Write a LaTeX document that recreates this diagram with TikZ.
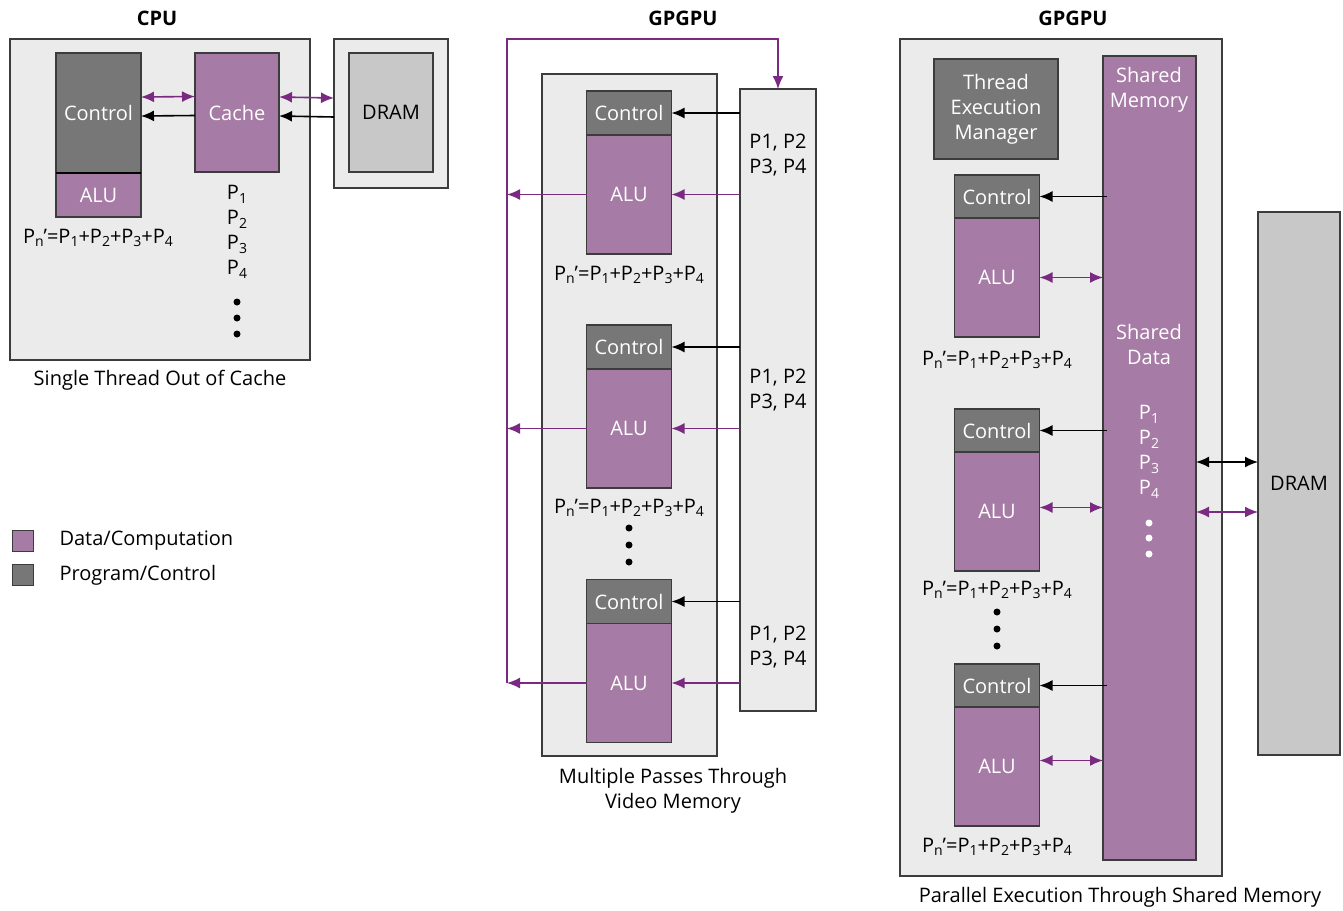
\documentclass[tikz,border=0pt]{standalone}
\usepackage{fontspec}
\setmainfont{Open Sans}
\usepackage{tikz}
\usetikzlibrary{positioning, arrows.meta}
\definecolor{datapurple}{RGB}{166,123,165}
\definecolor{arrowpurple}{RGB}{122,42,128}
\definecolor{ctrlgray}{RGB}{119,119,119}
\definecolor{panelgray}{RGB}{235,235,235}
\definecolor{dramgray}{RGB}{200,200,200}
\definecolor{edge}{RGB}{60,60,60}
\newcommand{\psub}[1]{\raisebox{-0.35ex}{\fontsize{14}{14}\selectfont #1}}
\tikzset{
	every node/.style={
		align=center,
		font=\fontsize{20}{25}\selectfont,
	},
	panel/.style={draw=edge, fill=panelgray, line width=1.5pt, inner sep=0pt, outer sep=0pt},
	ctrl/.style={draw=edge, fill=ctrlgray, text=white, line width=1.5pt, inner sep=0pt, outer sep=0pt},
	data/.style={draw=edge, fill=datapurple, text=white, line width=1.5pt, inner sep=0pt, outer sep=0pt},
	dram/.style={draw=edge, fill=dramgray, line width=1.5pt, inner sep=0pt, outer sep=0pt},
	title/.style={font=\fontsize{20}{25}\selectfont\bfseries},
	blk/.style={draw=black, line width=1.6pt, -{Latex[length=13pt,width=11pt]}},
	blkboth/.style={draw=black, line width=1.6pt, {Latex[length=13pt,width=11pt]}-{Latex[length=13pt,width=11pt]}},
	purline/.style={draw=arrowpurple, line width=1.6pt},
	pur/.style={draw=arrowpurple, line width=1.6pt, -{Latex[length=13pt,width=11pt]}},
	purboth/.style={draw=arrowpurple, line width=1.6pt, {Latex[length=13pt,width=11pt]}-{Latex[length=13pt,width=11pt]}},
}
\begin{document}
\begin{tikzpicture}[x=1pt, y=-1pt]
        \useasboundingbox[fill=white] (0,0) rectangle (1343,910);
        \node[title] (cputitle) at (157,18) {CPU};
        \node[panel, minimum width=300pt, minimum height=321pt] (cpu) at (160,199.5) {};
        \node[panel, minimum width=114pt, minimum height=149pt] (cdramout) at (391,113.5) {};
        \node[dram, minimum width=84pt, minimum height=119pt] (cdram) at (391,112.5) {DRAM};
        \node[ctrl, minimum width=85pt, minimum height=120pt] (cctl) at (98.5,113) {Control};
        \node[data, minimum width=85pt, minimum height=44pt, below=0pt of cctl] (calu) {ALU};
        \node[data, minimum width=84pt, minimum height=119pt] (cache) at (237,112.5) {Cache};
        \draw[black, line width=2pt] (calu.north west) -- (calu.north east);
        \draw[purboth] ([yshift=16pt]cctl.east) -- ([yshift=16pt]cache.west);
        \draw[blk] ([yshift=-3pt]cache.west) -- ([yshift=-3pt]cctl.east);
        \draw[purboth] ([yshift=15.5pt]cache.east) -- ([yshift=15.5pt]cdramout.west);
        \draw[blk] ([yshift=-3.5pt]cdramout.west) -- ([yshift=-3.5pt]cache.east);
        \node[] (csum) at (98,238) {P\psub{n}’=P\psub{1}+P\psub{2}+P\psub{3}+P\psub{4}};
        \node[] (clist) at (237,232) {P\psub{1}\\P\psub{2}\\P\psub{3}\\P\psub{4}};
        \fill (237,302) circle (3.5) (237,318) circle (3.5) (237,334) circle (3.5);
        \node[] (ccap) at (160,380) {Single Thread Out of Cache};
        \node[data, minimum width=21pt, minimum height=21pt] (legdata) at (23,541) {};
        \node[ctrl, minimum width=21pt, minimum height=21pt] (legctrl) at (23,575) {};
        \node[anchor=west] (legdatatext) at (56,541) {Data/Computation};
        \node[anchor=west] (legctrltext) at (56,575) {Program/Control};
        \node[title] (mtitle) at (683,18) {GPGPU};
        \node[panel, minimum width=175pt, minimum height=682pt] (mpanel) at (629.5,415) {};
        \node[panel, minimum width=76pt, minimum height=622pt] (pbox) at (778,400) {};
        \coordinate (looptop) at (507,39);
        \coordinate (loopbot) at (507,683);
        \draw[purline, -{Latex[length=13pt,width=11pt]}] (loopbot) -- (looptop) -| (pbox.north);
        \node[ctrl, minimum width=85pt, minimum height=44pt] (mctl1) at (629,113) {Control};
        \node[data, minimum width=85pt, minimum height=119pt, below=0pt of mctl1] (malu1) {ALU};
        \node[ctrl, minimum width=85pt, minimum height=44pt] (mctl2) at (629,347) {Control};
        \node[data, minimum width=85pt, minimum height=119pt, below=0pt of mctl2] (malu2) {ALU};
        \node[ctrl, minimum width=85pt, minimum height=44pt] (mctl3) at (629,601.5) {Control};
        \node[data, minimum width=85pt, minimum height=119pt, below=0pt of mctl3] (malu3) {ALU};
        \node[] (mlist1) at (778,155) {P1, P2\\P3, P4};
        \node[] (mlist2) at (778,390) {P1, P2\\P3, P4};
        \node[] (mlist3) at (778,647) {P1, P2\\P3, P4};
        \draw[blk] (pbox.west |- mctl1) -- (mctl1.east);
        \draw[blk] (pbox.west |- mctl2) -- (mctl2.east);
        \draw[blk] (pbox.west |- mctl3) -- (mctl3.east);
        \draw[pur] (pbox.west |- malu1) -- (malu1.east);
        \draw[pur] (pbox.west |- malu2) -- (malu2.east);
        \draw[pur] (pbox.west |- malu3) -- (malu3.east);
        \draw[pur] (malu1.west) -- (loopbot |- malu1);
        \draw[pur] (malu2.west) -- (loopbot |- malu2);
        \draw[pur] (malu3.west) -- (loopbot |- malu3);
        \node[] (msum1) at (629,275) {P\psub{n}’=P\psub{1}+P\psub{2}+P\psub{3}+P\psub{4}};
        \node[] (msum2) at (629,508) {P\psub{n}’=P\psub{1}+P\psub{2}+P\psub{3}+P\psub{4}};
        \fill (629,528) circle (3.5) (629,545) circle (3.5) (629,562) circle (3.5);
        \node[] (mcap) at (673,791) {Multiple Passes Through\\Video Memory};
        \node[title] (rtitle) at (1073,18) {GPGPU};
        \node[panel, minimum width=322pt, minimum height=837pt] (rpanel) at (1061,457.5) {};
        \node[ctrl, minimum width=124pt, minimum height=100pt] (tem) at (996,109) {Thread\\Execution\\Manager};
        \node[data, minimum width=93pt, minimum height=804pt] (smem) at (1149.5,458) {};
        \node[text=white] (smemtext) at (1149,90) {Shared\\Memory};
        \node[text=white] (sdata) at (1149,344) {Shared\\Data};
        \node[text=white] (slist) at (1149,452) {P\psub{1}\\P\psub{2}\\P\psub{3}\\P\psub{4}};
        \fill[white] (1149,523) circle (3.5) (1149,538) circle (3.5) (1149,554) circle (3.5);
        \node[ctrl, minimum width=85pt, minimum height=43pt] (rctl1) at (997,196.5) {Control};
        \node[data, minimum width=85pt, minimum height=119pt, below=0pt of rctl1] (ralu1) {ALU};
        \node[ctrl, minimum width=85pt, minimum height=43pt] (rctl2) at (997,430.5) {Control};
        \node[data, minimum width=85pt, minimum height=119pt, below=0pt of rctl2] (ralu2) {ALU};
        \node[ctrl, minimum width=85pt, minimum height=43pt] (rctl3) at (997,685.5) {Control};
        \node[data, minimum width=85pt, minimum height=119pt, below=0pt of rctl3] (ralu3) {ALU};
        \draw[blk] ([xshift=4pt]smem.west |- rctl1) -- (rctl1.east);
        \draw[blk] ([xshift=4pt]smem.west |- rctl2) -- (rctl2.east);
        \draw[blk] ([xshift=4pt]smem.west |- rctl3) -- (rctl3.east);
        \draw[purboth] (ralu1.east) -- (smem.west |- ralu1);
        \draw[purboth] ([yshift=4pt]ralu2.east) -- ([yshift=4pt]smem.west |- ralu2);
        \draw[purboth] ([yshift=6pt]ralu3.east) -- ([yshift=6pt]smem.west |- ralu3);
        \node[] (rsum1) at (997,360) {P\psub{n}’=P\psub{1}+P\psub{2}+P\psub{3}+P\psub{4}};
        \node[] (rsum2) at (997,590) {P\psub{n}’=P\psub{1}+P\psub{2}+P\psub{3}+P\psub{4}};
        \node[] (rsum3) at (997,847) {P\psub{n}’=P\psub{1}+P\psub{2}+P\psub{3}+P\psub{4}};
        \fill (997,612) circle (3.5) (997,629) circle (3.5) (997,646) circle (3.5);
        \node[dram, minimum width=82pt, minimum height=543pt] (rdram) at (1299,483.5) {DRAM};
        \draw[blkboth] ([yshift=-4pt]smem.east) -- ([yshift=-4pt]smem.east -| rdram.west);
        \draw[purboth] ([yshift=-54pt]smem.east) -- ([yshift=-54pt]smem.east -| rdram.west);
        \node[] (rcap) at (1120,897) {Parallel Execution Through Shared Memory};
        \end{tikzpicture}
\end{document}
